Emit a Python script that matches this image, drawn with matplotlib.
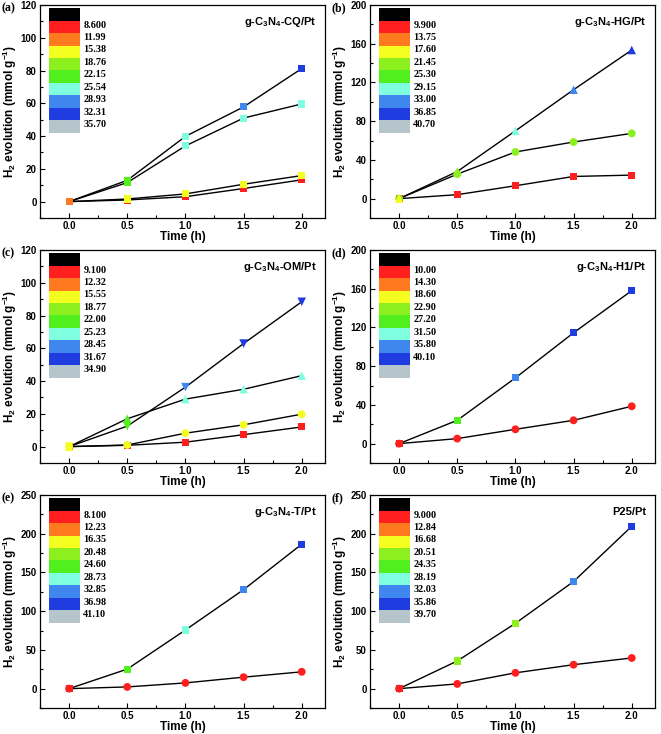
import numpy as np
import matplotlib
matplotlib.use("Agg")
import matplotlib.pyplot as plt
from matplotlib.patches import Rectangle
from matplotlib.ticker import MultipleLocator

plt.rcParams['font.family'] = ['Liberation Sans', 'DejaVu Sans']
plt.rcParams['font.weight'] = 'bold'
plt.rcParams['mathtext.default'] = 'regular'

# Level colours of the colour-map legend (top to bottom)
LEVEL_COLORS = {
    'K': '#000000', 'R': '#ff1f1f', 'O': '#ff7a1f', 'Y': '#f5ff1f', 'LG': '#8cf01f',
    'G': '#52ef1f', 'C': '#80ffe0', 'LB': '#3f86ef', 'B': '#1f3ce0', 'GR': '#b6c5cc',
}
LEVEL_ORDER = ['K', 'R', 'O', 'Y', 'LG', 'G', 'C', 'LB', 'B', 'GR']

time_h = [0.0, 0.5, 1.0, 1.5, 2.0]

# (a) g-C3N4-CQ/Pt
a_s1 = [0, 1.0, 3.0, 8.0, 13.3]
a_s1_c = ['O', 'R', 'R', 'R', 'R']
a_s2 = [0, 1.6, 4.7, 10.6, 15.9]
a_s2_c = ['O', 'Y', 'Y', 'Y', 'Y']
a_s3 = [0, 11.6, 34.0, 51.0, 59.6]
a_s3_c = ['O', 'G', 'C', 'C', 'C']
a_s4 = [0, 13.0, 39.8, 57.8, 81.2]
a_s4_c = ['O', 'G', 'C', 'LB', 'B']
a_levels = ['8.600', '11.99', '15.38', '18.76', '22.15', '25.54', '28.93', '32.31', '35.70']

# (b) g-C3N4-HG/Pt
b_s1 = [0, 4.1, 13.3, 22.9, 24.3]
b_s1_c = ['R', 'R', 'R', 'R', 'R']
b_s2 = [0, 25.3, 48.2, 58.5, 67.4]
b_s2_c = ['LG', 'LG', 'LG', 'LG', 'LG']
b_s3 = [0, 28.0, 70.0, 112.5, 153.5]
b_s3_c = ['Y', 'LG', 'C', 'LB', 'B']
b_levels = ['9.900', '13.75', '17.60', '21.45', '25.30', '29.15', '33.00', '36.85', '40.70']

# (c) g-C3N4-OM/Pt
c_s1 = [0, 0.8, 2.7, 7.3, 12.0]
c_s1_c = ['R', 'R', 'R', 'R', 'R']
c_s2 = [0, 17.0, 29.0, 35.0, 43.3]
c_s2_c = ['Y', 'G', 'C', 'C', 'C']
c_s3 = [0, 12.5, 36.3, 62.9, 88.4]
c_s3_c = ['Y', 'G', 'LB', 'B', 'B']
c_s4 = [0, 1.0, 8.2, 13.3, 19.8]
c_s4_c = ['Y', 'Y', 'Y', 'Y', 'Y']
c_levels = ['9.100', '12.32', '15.55', '18.77', '22.00', '25.23', '28.45', '31.67', '34.90']

# (d) g-C3N4-H1/Pt
d_s1 = [0, 24.1, 67.9, 114.5, 158.0]
d_s1_c = ['R', 'G', 'LB', 'B', 'B']
d_s2 = [0, 5.2, 14.8, 24.1, 38.6]
d_s2_c = ['R', 'R', 'R', 'R', 'R']
d_levels = ['10.00', '14.30', '18.60', '22.90', '27.20', '31.50', '35.80', '40.10']

# (e) g-C3N4-T/Pt
e_s1 = [0, 25.2, 75.7, 127.8, 186.5]
e_s1_c = ['R', 'G', 'C', 'LB', 'B']
e_s2 = [0, 2.2, 7.4, 14.8, 21.7]
e_s2_c = ['R', 'R', 'R', 'R', 'R']
e_levels = ['8.100', '12.23', '16.35', '20.48', '24.60', '28.73', '32.85', '36.98', '41.10']

# (f) P25/Pt
f_s1 = [0, 35.7, 84.3, 138.3, 209.6]
f_s1_c = ['R', 'LG', 'LG', 'LB', 'B']
f_s2 = [0, 6.1, 20.4, 30.9, 39.6]
f_s2_c = ['R', 'R', 'R', 'R', 'R']
f_levels = ['9.000', '12.84', '16.68', '20.51', '24.35', '28.19', '32.03', '35.86', '39.70']

MARKER_SIZE = {'s': 26, 'o': 32, '^': 38, 'v': 38}


def draw_series(ax, y, colors, marker):
    ax.plot(time_h, y, color='black', lw=1.0, zorder=2)
    ax.scatter(time_h, y, c=[LEVEL_COLORS[k] for k in colors], marker=marker,
               s=MARKER_SIZE[marker], edgecolors='none', zorder=3)


def draw_level_legend(ax, labels):
    x0, w = 0.03, 0.112
    top, h = 0.985, 0.0585
    for i, key in enumerate(LEVEL_ORDER):
        y = top - (i + 1) * h
        ax.add_patch(Rectangle((x0, y), w, h, transform=ax.transAxes,
                               facecolor=LEVEL_COLORS[key], edgecolor='none', zorder=4))
    for i, lab in enumerate(labels):
        y = top - (i + 1) * h - 0.35 * h
        ax.text(x0 + w + 0.01, y, lab, transform=ax.transAxes, ha='left', va='center',
                fontsize=7.3, family=['Liberation Serif'], fontweight='bold', zorder=5)


def setup_axes(ax, ymin, ymax, ystep, name, panel):
    ax.set_xlim(-0.25, 2.2)
    ax.set_ylim(ymin, ymax)
    ax.xaxis.set_major_locator(MultipleLocator(0.5))
    ax.xaxis.set_minor_locator(MultipleLocator(0.25))
    ax.yaxis.set_major_locator(MultipleLocator(ystep))
    ax.yaxis.set_minor_locator(MultipleLocator(ystep / 2))
    ax.set_xticks(time_h)
    ax.set_xticklabels(['{:.1f}'.format(t) for t in time_h])
    ax.tick_params(which='both', direction='in', labelsize=7, top=False, right=False,
                   width=0.8, pad=2.5)
    ax.tick_params(which='major', length=3.5)
    ax.tick_params(which='minor', length=2)
    for sp in ax.spines.values():
        sp.set_linewidth(0.9)
    ax.set_xlabel('Time (h)', fontsize=8.5, fontweight='bold', labelpad=0)
    ax.set_ylabel('H$_2$ evolution (mmol g$^{-1}$)', fontsize=8.5, fontweight='bold')
    ax.yaxis.label.set_va('center')
    ax.yaxis.set_label_coords(-0.105, 0.5)
    ax.text(0.97, 0.92, name, transform=ax.transAxes, ha='right', va='center',
            fontsize=8, fontweight='bold')
    ax.text(-0.135, 0.985, panel, transform=ax.transAxes, ha='left', va='center',
            fontsize=8.5, family=['Liberation Serif'], fontweight='bold')


def main():
    fig = plt.figure(figsize=(6.61, 7.34), dpi=100)
    lefts = [40 / 661, 370 / 661]
    bottoms = [1 - 218 / 734, 1 - 463 / 734, 1 - 708 / 734]
    w, h = 285 / 661, 213 / 734
    axes = [[fig.add_axes([l, b, w, h]) for l in lefts] for b in bottoms]

    ax = axes[0][0]
    draw_series(ax, a_s1, a_s1_c, 's')
    draw_series(ax, a_s2, a_s2_c, 's')
    draw_series(ax, a_s3, a_s3_c, 's')
    draw_series(ax, a_s4, a_s4_c, 's')
    setup_axes(ax, -10, 120, 20, 'g-C$_3$N$_4$-CQ/Pt', '(a)')
    draw_level_legend(ax, a_levels)

    ax = axes[0][1]
    draw_series(ax, b_s1, b_s1_c, 's')
    draw_series(ax, b_s2, b_s2_c, 'o')
    draw_series(ax, b_s3, b_s3_c, '^')
    setup_axes(ax, -20, 200, 40, 'g-C$_3$N$_4$-HG/Pt', '(b)')
    draw_level_legend(ax, b_levels)

    ax = axes[1][0]
    draw_series(ax, c_s1, c_s1_c, 's')
    draw_series(ax, c_s2, c_s2_c, '^')
    draw_series(ax, c_s3, c_s3_c, 'v')
    draw_series(ax, c_s4, c_s4_c, 'o')
    setup_axes(ax, -10, 120, 20, 'g-C$_3$N$_4$-OM/Pt', '(c)')
    draw_level_legend(ax, c_levels)

    ax = axes[1][1]
    draw_series(ax, d_s1, d_s1_c, 's')
    draw_series(ax, d_s2, d_s2_c, 'o')
    setup_axes(ax, -20, 200, 40, 'g-C$_3$N$_4$-H1/Pt', '(d)')
    draw_level_legend(ax, d_levels)

    ax = axes[2][0]
    draw_series(ax, e_s1, e_s1_c, 's')
    draw_series(ax, e_s2, e_s2_c, 'o')
    setup_axes(ax, -25, 250, 50, 'g-C$_3$N$_4$-T/Pt', '(e)')
    draw_level_legend(ax, e_levels)

    ax = axes[2][1]
    draw_series(ax, f_s1, f_s1_c, 's')
    draw_series(ax, f_s2, f_s2_c, 'o')
    setup_axes(ax, -25, 250, 50, 'P25/Pt', '(f)')
    draw_level_legend(ax, f_levels)

    fig.savefig('out.png', dpi=100)


if __name__ == '__main__':
    main()
